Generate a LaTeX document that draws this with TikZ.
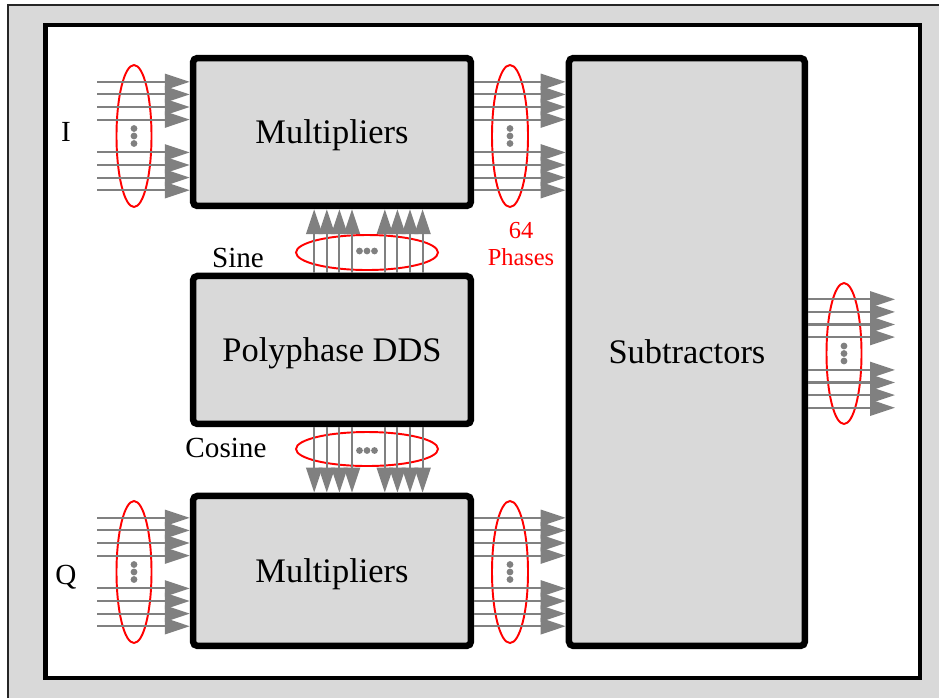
\documentclass[tikz,border=0pt]{standalone}
\usepackage{fontspec}
\setmainfont{Liberation Serif}
\usetikzlibrary{arrows.meta,positioning,shapes.geometric,calc}
\definecolor{panelgray}{HTML}{D9D9D9}
\definecolor{busgray}{HTML}{808080}
\definecolor{phasered}{HTML}{FF0000}
\tikzset{
  blockbox/.style={rounded corners=2.5pt, draw=black, fill=panelgray, line width=3.7pt, align=center, font=\fontsize{19.6}{23}\selectfont, inner sep=0pt, text depth=0pt},
  bus/.style={-{Triangle[length=0.5cm, width=0.32cm]}, line width=1.2pt, draw=busgray, fill=busgray},
  ring/.style={ellipse, draw=phasered, line width=1.1pt, inner sep=0pt},
  sidetag/.style={font=\fontsize{16.6}{19}\selectfont, inner sep=0pt},
  phasetag/.style={font=\fontsize{13.9}{15.9}\selectfont, text=phasered, align=center, inner sep=0pt}
}

\begin{document}
\begin{tikzpicture}[x=0.02cm, y=-0.02cm]
  \useasboundingbox (0,0) rectangle (939,698);
  % frame
  \fill[panelgray] (8,5) rectangle (939,698);
  \draw[line width=0.9pt, black!85] (8,698) -- (8,5) -- (939,5);
  \draw[line width=2.3pt, fill=white] (45.5,25) rectangle (920,678);

  % blocks
  \node[blockbox, minimum width=5.56cm, minimum height=2.96cm] (mulI) at (332,132) {Multipliers};
  \node[blockbox, minimum width=5.56cm, minimum height=2.96cm, below=1.27cm of mulI] (dds) {Polyphase DDS};
  \node[blockbox, minimum width=5.56cm, minimum height=3.0cm, below=1.31cm of dds] (mulQ) {Multipliers};
  \node[blockbox, minimum width=4.72cm, minimum height=11.76cm, anchor=north west] (sub) at ([xshift=1.83cm]mulI.north east) {Subtractors};

  % phase bundles
  \node[ring, minimum width=0.7cm, minimum height=2.84cm] (ringI) at (134,136) {};
  \node[ring, minimum width=0.72cm, minimum height=2.84cm] (ringIout) at (510,136) {};
  \node[ring, minimum width=0.7cm, minimum height=2.84cm] (ringQ) at (134,572) {};
  \node[ring, minimum width=0.72cm, minimum height=2.84cm] (ringQout) at (510,572) {};
  \node[ring, minimum width=0.7cm, minimum height=2.82cm] (ringSub) at (844,353.5) {};
  \node[ring, minimum width=2.84cm, minimum height=0.7cm] (ringSin) at (367,252.5) {};
  \node[ring, minimum width=2.84cm, minimum height=0.68cm] (ringCos) at (367,449) {};

  \foreach \d in {-54.2,-41.6,-29,-16.4,16.4,29,41.6,54.2}{
    \coordinate (inI) at (97,{136+(\d)});
    \coordinate (inQ) at (97,{572+(\d)});
    \draw[bus] (inI) -- (inI -| mulI.west);
    \draw[bus] (inQ) -- (inQ -| mulQ.west);
    \draw[bus] (inI -| mulI.east) -- (inI -| sub.west);
    \draw[bus] (inQ -| mulQ.east) -- (inQ -| sub.west);
    \coordinate (outS) at (895,{353.5+(\d)});
    \draw[bus] (outS -| sub.east) -- (outS);
    \coordinate (sx) at ({368.4+(\d)},0);
    \draw[bus] (dds.north -| sx) -- (mulI.south -| sx);
    \draw[bus] (dds.south -| sx) -- (mulQ.north -| sx);
  }
  \foreach \k in {-7.5,0,7.5}{
    \fill[busgray] ($(ringI)+(0,\k)$) circle (0.068cm);
    \fill[busgray] ($(ringIout)+(0,\k)$) circle (0.068cm);
    \fill[busgray] ($(ringQ)+(0,\k)$) circle (0.068cm);
    \fill[busgray] ($(ringQout)+(0,\k)$) circle (0.068cm);
    \fill[busgray] ($(ringSub)+(0,\k)$) circle (0.068cm);
    \fill[busgray] ($(ringSin)+(\k,-1.5)$) circle (0.068cm);
    \fill[busgray] ($(ringCos)+(\k,1.5)$) circle (0.068cm);
  }

  % labels
  \node[sidetag] (tagI) at (66,132) {I};
  \node[sidetag] (tagQ) at (66,577) {Q};
  \node[sidetag] (tagSin) at (238,258) {Sine};
  \node[sidetag] (tagCos) at (226,448) {Cosine};
  \node[phasetag] (tagPh) at (521,244) {64\\Phases};
\end{tikzpicture}
\end{document}
